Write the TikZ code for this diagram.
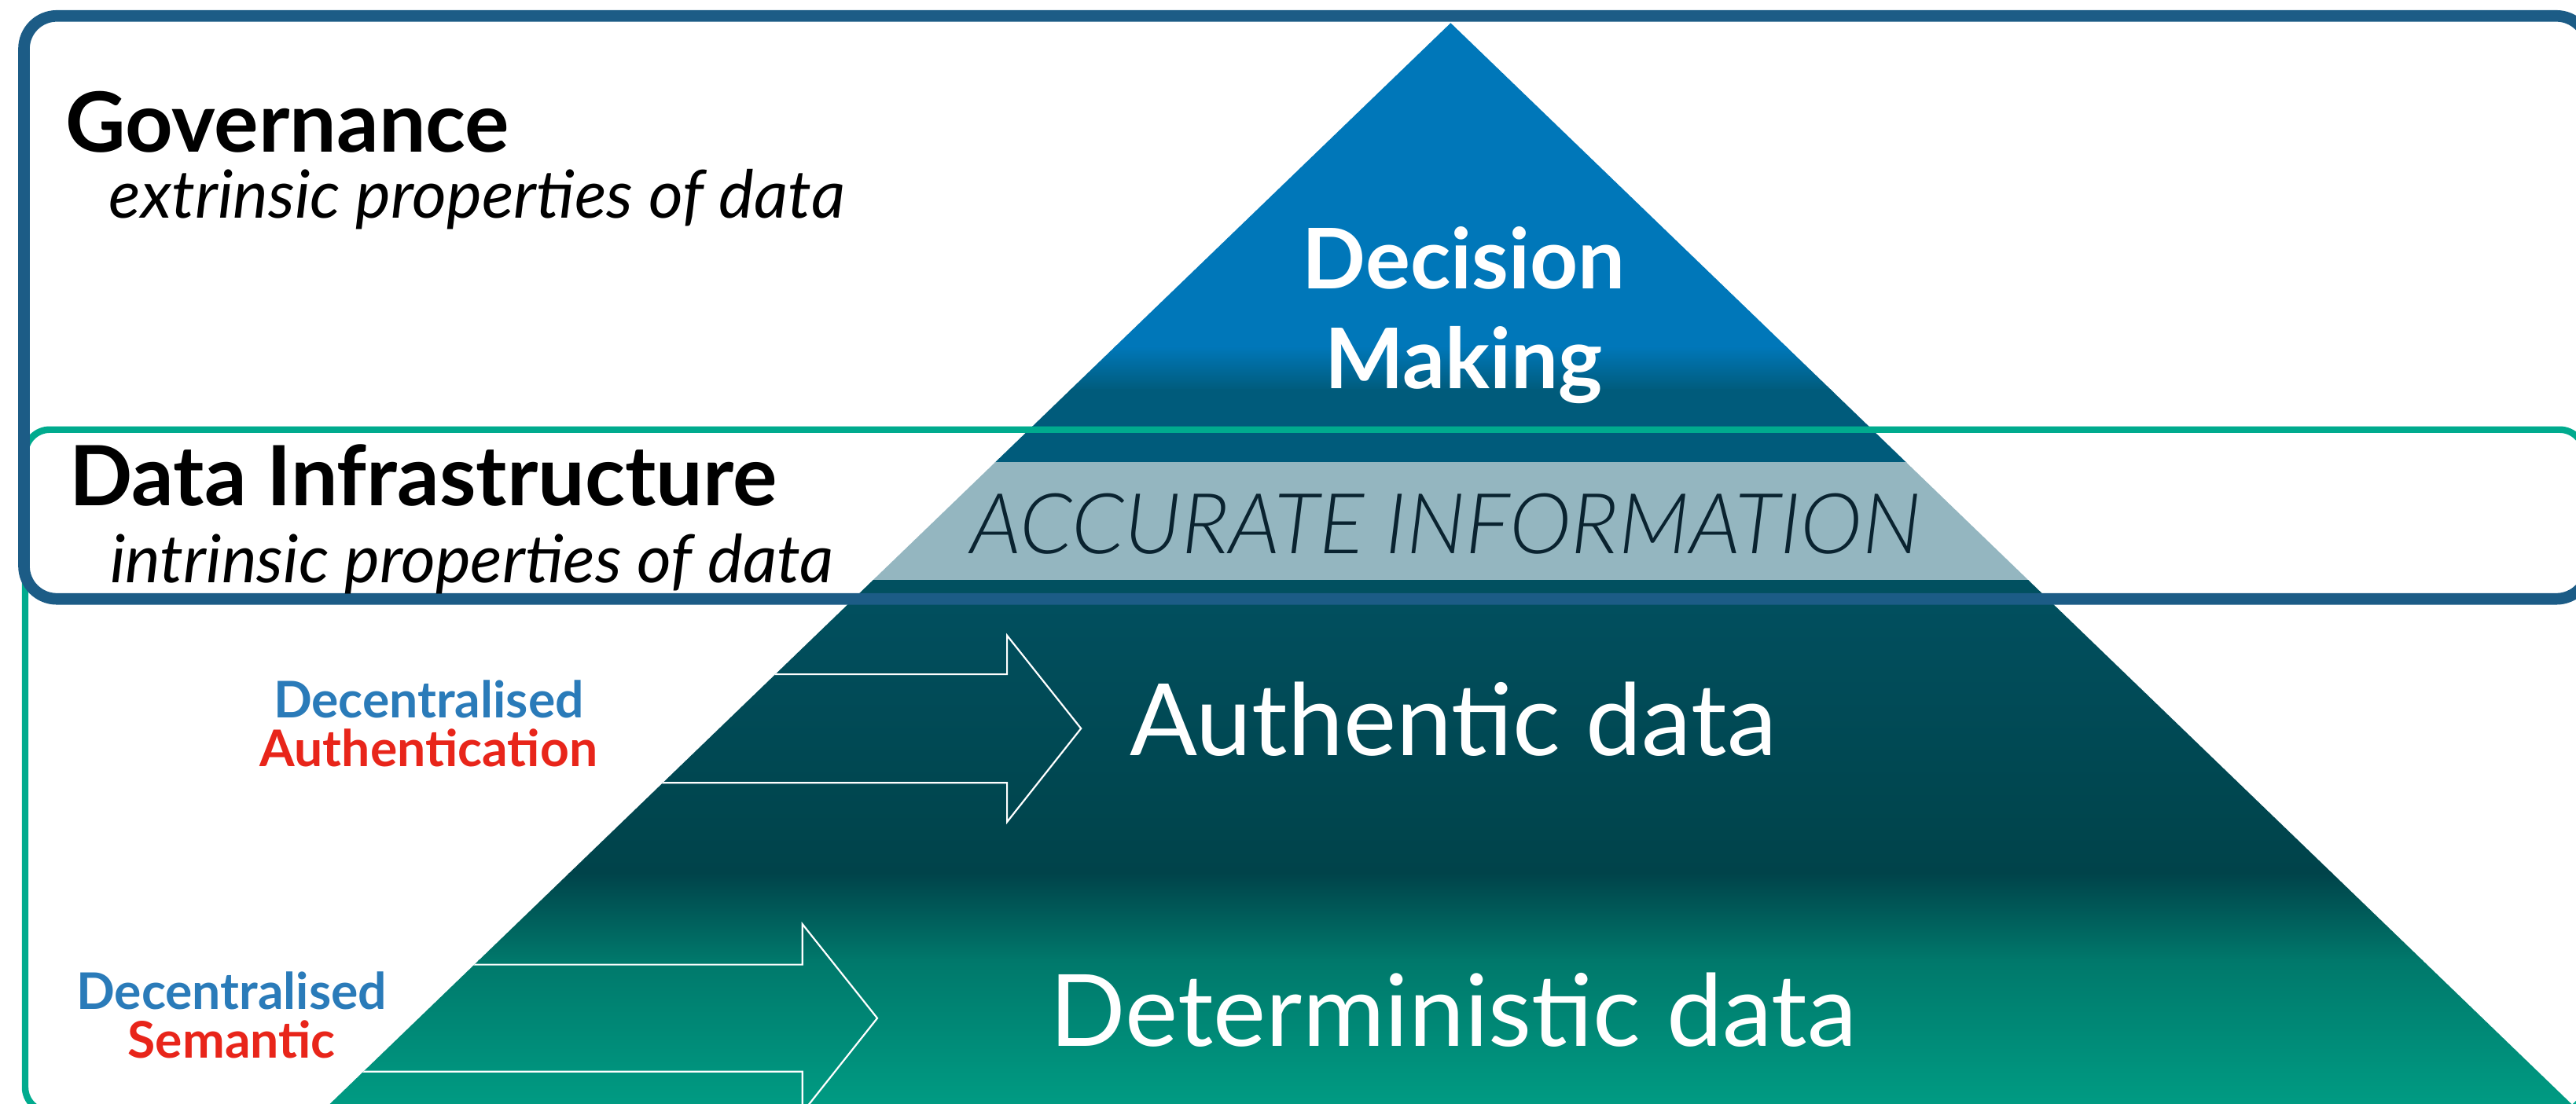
\documentclass[tikz,border=0pt]{standalone}
\usepackage{fontspec}
\setmainfont{Lato}
\IfFontExistsTF{Lato Light}{\newfontfamily\lightfont{Lato Light}}{\newfontfamily\lightfont{Lato}}
\usepackage{xcolor}
\definecolor{govblue}{RGB}{28,92,134}
\definecolor{infragreen}{RGB}{0,171,142}
\definecolor{topblue}{RGB}{0,119,185}
\definecolor{darkband}{RGB}{0,91,123}
\definecolor{infoband}{RGB}{148,182,192}
\definecolor{darkband2}{RGB}{1,80,96}
\definecolor{deepteal}{RGB}{0,67,74}
\definecolor{midteal}{RGB}{0,120,107}
\definecolor{lightteal}{RGB}{0,166,138}
\definecolor{decblue}{RGB}{42,123,185}
\definecolor{decred}{RGB}{232,37,26}
\definecolor{infotext}{RGB}{10,35,48}
\tikzstyle{govbox} = [draw=govblue, line width=4pt, rounded corners=4mm]
\tikzstyle{infrabox} = [draw=infragreen, line width=2.3pt, rounded corners=3mm]
\tikzstyle{heading} = [anchor=base west, inner sep=0pt,
font=\fontsize{28.8}{34}\selectfont\bfseries]
\tikzstyle{subheading} = [anchor=base west, inner sep=0pt,
font=\fontsize{23}{27}\selectfont\itshape]
\tikzstyle{toplayer} = [anchor=base, inner sep=0pt, align=center, text=white,
font=\fontsize{29}{34.7}\selectfont\bfseries]
\tikzstyle{infolayer} = [anchor=base, inner sep=0pt, text=infotext,
font=\fontsize{29.1}{34}\selectfont\lightfont\itshape]
\tikzstyle{datalayer} = [anchor=base, inner sep=0pt, text=white,
font=\fontsize{34.6}{40}\selectfont]
\tikzstyle{techlabel} = [anchor=center, inner sep=0pt, align=center,
font=\fontsize{17.5}{16.8}\selectfont\bfseries]
\tikzstyle{bigarrow} = [draw=white, line width=0.6pt]

\begin{document}
\begin{tikzpicture}[x=0.2mm, y=-0.2mm]
\useasboundingbox (0,0) rectangle (1568,672);

% pyramid
\begin{scope}
\clip (883,14) -- (1594,700) -- (172,700) -- cycle;
\fill[topblue] (0,0) rectangle (1600,212);
\shade[top color=topblue, bottom color=darkband] (0,211) rectangle (1600,238);
\fill[darkband] (0,237) rectangle (1600,282);
\fill[infoband] (0,281.5) rectangle (1600,354);
\shade[top color=darkband2, bottom color=deepteal] (0,353.5) rectangle (1600,532);
\shade[top color=deepteal, bottom color=midteal] (0,531.5) rectangle (1600,585);
\shade[top color=midteal, bottom color=lightteal] (0,584.5) rectangle (1600,700);
\draw[bigarrow] (380,410.6) -- (613,410.6) -- (613,387) -- (658,443.6)
-- (613,500.5) -- (613,476.7) -- (380,476.7);
\draw[bigarrow] (150,587.4) -- (488.4,587.4) -- (488.4,562.7) -- (534,620)
-- (488.4,677.5) -- (488.4,652.5) -- (150,652.5);
\end{scope}

% frames
\draw[infrabox] (15.3,261.6) rectangle (1573,677);
\draw[govbox] (14.6,9.7) rectangle (1576,364.7);

\node (gov) [heading] at (39.5,92.8) {Governance};
\node (govsub) [subheading] at (66,133) {extrinsic properties of data};
\node (infra) [heading] at (42,308) {Data Infrastructure};
\node (infrasub) [subheading] at (66.7,355) {intrinsic properties of data};

\node (decision) [toplayer] at (891,236.8) {Decision\\Making};
\node (accurate) [infolayer] at (880,337) {ACCURATE INFORMATION};
\node (authentic) [datalayer] at (884.5,460) {Authentic data};
\node (deterministic) [datalayer] at (884.7,637) {Deterministic data};

\node (authlabel) [techlabel] at (261,440.5)
{\textcolor{decblue}{Decentralised}\\\textcolor{decred}{Authentication}};
\node (semlabel) [techlabel] at (141,618)
{\textcolor{decblue}{Decentralised}\\\textcolor{decred}{Semantic}};

\end{tikzpicture}
\end{document}
